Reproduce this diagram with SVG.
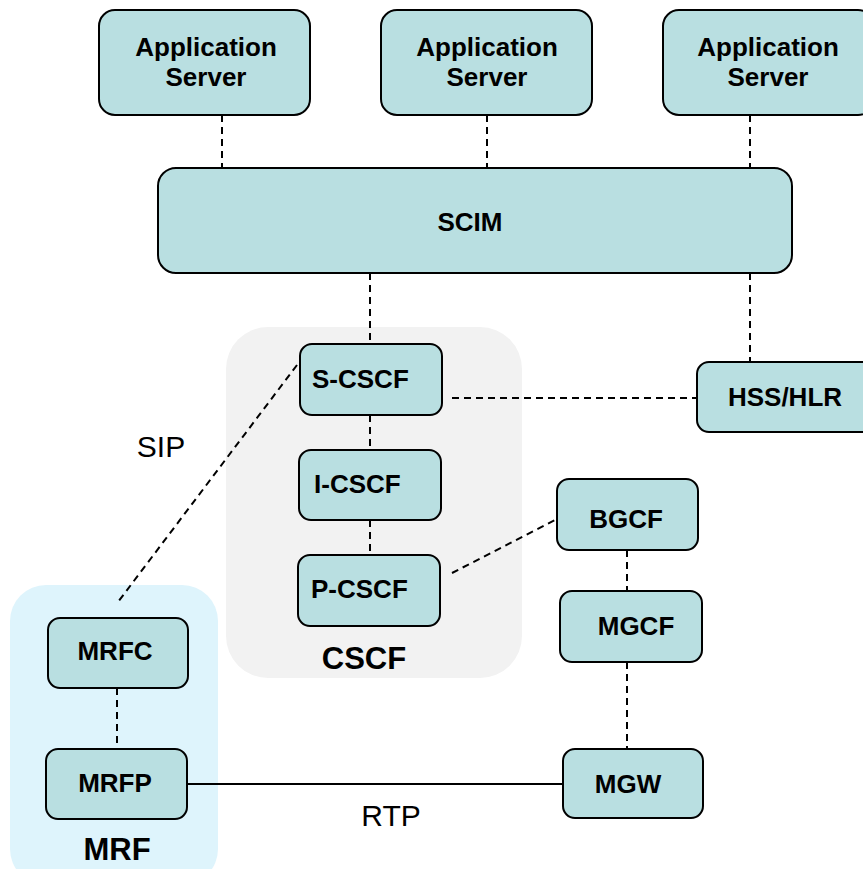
<svg xmlns="http://www.w3.org/2000/svg" width="863" height="869" viewBox="0 0 863 869">
<style>
.n{fill:#b9dfe1;stroke:#000;stroke-width:2}
.t{font-family:"Liberation Sans",Arial,sans-serif;font-weight:bold;font-size:26px;fill:#000}
.m{text-anchor:middle}
.g{font-family:"Liberation Sans",Arial,sans-serif;font-weight:bold;font-size:31px;fill:#000;text-anchor:middle}
.l{font-family:"Liberation Sans",Arial,sans-serif;font-size:30px;fill:#000;text-anchor:middle}
.d{stroke:#000;stroke-width:2;stroke-dasharray:7,5;fill:none}
.s{stroke:#000;stroke-width:2;fill:none}
</style>
<rect width="863" height="869" fill="#fff"/>
<g id="cscf-group">
<rect x="226" y="327" width="296" height="351" rx="42" fill="#f2f2f2"/>
<text class="g" x="364" y="669">CSCF</text>
</g>
<g id="mrf-group">
<rect x="10" y="585" width="208" height="300" rx="36" fill="#def4fc"/>
<text class="g" x="117" y="860">MRF</text>
</g>
<g id="connectors">
<line class="d" x1="222" y1="115" x2="222" y2="168"/>
<line class="d" x1="487" y1="115" x2="487" y2="168"/>
<line class="d" x1="750" y1="115" x2="750" y2="168"/>
<line class="d" x1="370" y1="273" x2="370" y2="344"/>
<line class="d" x1="750" y1="273" x2="750" y2="362"/>
<line class="d" x1="370" y1="415" x2="370" y2="450"/>
<line class="d" x1="370" y1="520" x2="370" y2="555"/>
<line class="d" x1="452" y1="398" x2="697" y2="398"/>
<line class="d" x1="297" y1="365" x2="118" y2="602"/>
<line class="d" x1="452" y1="573" x2="557" y2="519"/>
<line class="d" x1="627" y1="550" x2="627" y2="591"/>
<line class="d" x1="627" y1="662" x2="627" y2="749"/>
<line class="d" x1="117" y1="688" x2="117" y2="749"/>
<line class="s" x1="187" y1="784" x2="563" y2="784"/>
<text class="l" x="161" y="457">SIP</text>
<text class="l" x="391" y="826">RTP</text>
</g>
<g id="as1"><rect class="n" x="99" y="10" width="211" height="105" rx="16"/><text class="t m" x="206" y="56">Application</text><text class="t m" x="206" y="86">Server</text></g>
<g id="as2"><rect class="n" x="381" y="10" width="211" height="105" rx="16"/><text class="t m" x="487" y="56">Application</text><text class="t m" x="487" y="86">Server</text></g>
<g id="as3"><rect class="n" x="663" y="10" width="211" height="105" rx="16"/><text class="t m" x="768" y="56">Application</text><text class="t m" x="768" y="86">Server</text></g>
<g id="scim"><rect class="n" x="158" y="168" width="634" height="105" rx="18"/><text class="t m" x="470" y="231">SCIM</text></g>
<g id="s-cscf"><rect class="n" x="300" y="344" width="142" height="71" rx="12"/><text class="t" x="312" y="388">S-CSCF</text></g>
<g id="i-cscf"><rect class="n" x="299" y="450" width="142" height="70" rx="12"/><text class="t" x="314" y="493">I-CSCF</text></g>
<g id="p-cscf"><rect class="n" x="298" y="555" width="142" height="71" rx="12"/><text class="t" x="311" y="598">P-CSCF</text></g>
<g id="hss"><rect class="n" x="697" y="362" width="180" height="70" rx="12"/><text class="t m" x="785" y="406">HSS/HLR</text></g>
<g id="bgcf"><rect class="n" x="557" y="479" width="141" height="71" rx="12"/><text class="t m" x="626" y="528">BGCF</text></g>
<g id="mgcf"><rect class="n" x="560" y="591" width="142" height="71" rx="12"/><text class="t m" x="636" y="635">MGCF</text></g>
<g id="mgw"><rect class="n" x="563" y="749" width="140" height="69" rx="12"/><text class="t m" x="628" y="793">MGW</text></g>
<g id="mrfc"><rect class="n" x="48" y="618" width="140" height="70" rx="12"/><text class="t m" x="115" y="660">MRFC</text></g>
<g id="mrfp"><rect class="n" x="46" y="749" width="141" height="70" rx="12"/><text class="t m" x="115" y="792">MRFP</text></g>
</svg>
